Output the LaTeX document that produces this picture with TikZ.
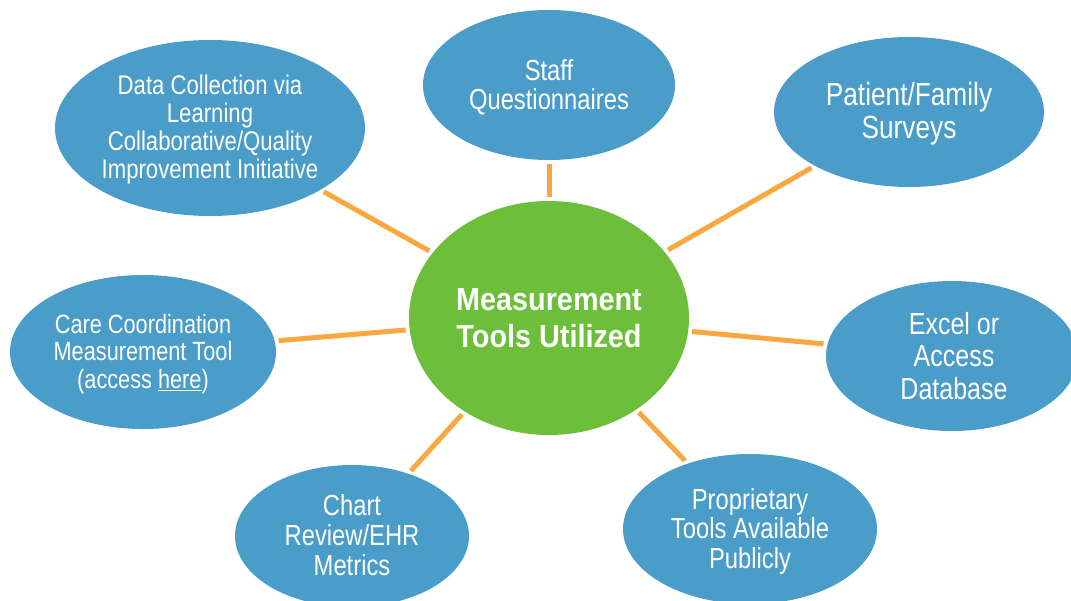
\documentclass[tikz,border=0pt]{standalone}
\usepackage{fontspec}
\setmainfont{Liberation Sans}[FakeStretch=0.82]
\newfontfamily\hubfont{Liberation Sans}[FakeStretch=0.9]
\usetikzlibrary{shapes.geometric}
\definecolor{bubblue}{HTML}{4A9CC9}
\definecolor{hubgreen}{HTML}{6DBE3A}
\definecolor{linkorange}{HTML}{F9A73E}
\tikzset{
  bubble/.style={ellipse, fill=bubblue, draw=none, inner sep=0pt, outer sep=0pt},
  hub/.style={ellipse, fill=hubgreen, draw=none, inner sep=0pt, outer sep=0pt},
  txt/.style={text=white, align=center, inner sep=0pt},
  link/.style={draw=linkorange, line width=5pt, shorten <=4pt, shorten >=4pt}
}
\newcommand{\fs}[2]{\fontsize{#1}{#2}\selectfont}
\begin{document}
\begin{tikzpicture}[x=1pt,y=-1pt]
\useasboundingbox (0,0) rectangle (1071,600);
% hub
\node[hub, minimum width=280, minimum height=234] (hub) at (549,318) {};
% satellites
\node[bubble, minimum width=310, minimum height=176] (dc) at (210,128) {};
\node[bubble, minimum width=252, minimum height=150] (sq) at (549,85) {};
\node[bubble, minimum width=270, minimum height=150] (pf) at (909,112) {};
\node[bubble, minimum width=266, minimum height=154] (cc) at (143,352) {};
\node[bubble, minimum width=252, minimum height=150] (ex) at (952,356) {};
\node[bubble, minimum width=234, minimum height=142] (cr) at (352,536) {};
\node[bubble, minimum width=254, minimum height=150] (pt) at (750,529) {};
% connectors
\draw[link] (hub) -- (dc);
\draw[link] (hub) -- (sq);
\draw[link] (hub) -- (pf);
\draw[link] (hub) -- (cc);
\draw[link] (hub) -- (ex);
\draw[link] (hub) -- (cr);
\draw[link] (hub) -- (pt);
% texts
\node[txt, font=\hubfont\bfseries\fs{32}{37}] (hubt) at (549,318) {Measurement\\Tools Utilized};
\node[txt, font=\fs{27}{28}] (dct) at (210,130) {Data Collection via\\Learning\\Collaborative/Quality\\Improvement Initiative};
\node[txt, font=\fs{29}{29}] (sqt) at (549,87) {Staff\\Questionnaires};
\node[txt, font=\fs{32}{33}] (pft) at (909,114) {Patient/Family\\Surveys};
\node[txt, font=\fs{26.5}{27.5}] (cct) at (143,354) {Care Coordination\\Measurement Tool\\(access \underline{here})};
\node[txt, font=\fs{30.5}{32.5}] (ext) at (954,356) {Excel or\\Access\\Database};
\node[txt, font=\fs{29}{30}] (crt) at (352,535) {Chart\\Review/EHR\\Metrics};
\node[txt, font=\fs{29}{29.5}] (ptt) at (750,531) {Proprietary\\Tools Available\\Publicly};
\end{tikzpicture}
\end{document}
